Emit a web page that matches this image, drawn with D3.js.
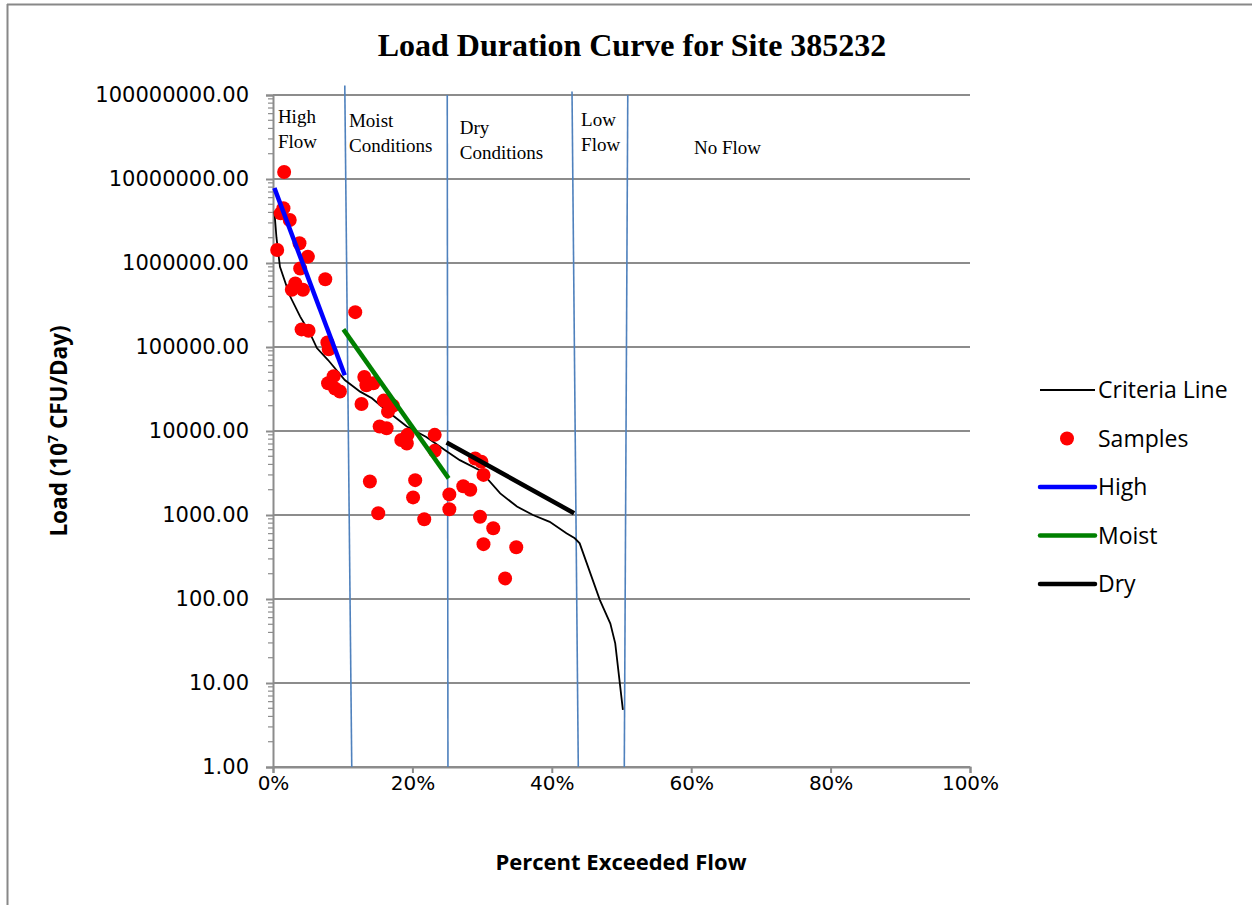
<!DOCTYPE html>
<html>
<head>
<meta charset="utf-8">
<script src="https://cdn.jsdelivr.net/npm/d3@7"></script>
<style>
  body { margin: 0; background: #fff; }
  svg { display: block; }
</style>
</head>
<body>
<div id="chart"></div>
<script>
// Criteria line (percent exceeded flow, load)
const criteriaPct = [0.2, 0.5, 1.0, 2.4, 3.9, 5.3, 6.3, 7.9, 10.3, 12.5, 14.2, 15.6, 17.7, 19.2, 22.0, 24.7, 26.8, 29.7, 32.6, 35.0, 37.3, 39.7, 42.1, 43.3, 44.0, 46.9, 48.4, 49.1, 50.2];
const criteriaLoad = [4.1e6, 2.0e6, 9e5, 4.1e5, 2.3e5, 1.46e5, 9.7e4, 7e4, 4.05e4, 2.94e4, 2.45e4, 1.95e4, 1.42e4, 1.13e4, 8.5e3, 5.9e3, 4.5e3, 3.4e3, 1.81e3, 1.26e3, 1.0e3, 830, 605, 528, 460, 97, 51, 29.7, 4.8];

// Samples
const samplePct = [1.6, 0.6, 1.5, 1.1, 2.4, 3.8, 5.0, 3.9, 7.5, 3.2, 2.7, 4.3, 11.8, 4.1, 5.1, 7.8, 8.0, 8.7, 7.9, 8.9, 9.6, 13.1, 13.4, 14.4, 12.7, 15.9, 17.2, 16.5, 15.3, 16.3, 18.4, 19.3, 19.2, 23.2, 23.2, 29.0, 29.9, 30.2, 13.9, 20.4, 20.1, 15.1, 21.7, 25.3, 25.3, 27.3, 28.3, 29.7, 31.6, 30.2, 34.9, 33.3];
const sampleLoad = [1.21e7, 1.43e6, 4.5e6, 3.9e6, 3.25e6, 1.72e6, 1.19e6, 8.6e5, 6.4e5, 5.7e5, 4.8e5, 4.8e5, 2.6e5, 1.62e5, 1.56e5, 1.13e5, 9.4e4, 4.5e4, 3.7e4, 3.2e4, 2.95e4, 4.4e4, 3.5e4, 3.7e4, 2.1e4, 2.3e4, 2.0e4, 1.7e4, 1.13e4, 1.08e4, 7.8e3, 9.0e3, 7.1e3, 9.0e3, 5.8e3, 4.7e3, 4.3e3, 3.0e3, 2.5e3, 2.6e3, 1.62e3, 1.05e3, 890, 1.76e3, 1.17e3, 2.2e3, 2.0e3, 955, 695, 450, 413, 176];

// Regression lines per flow regime: [startPct, startLoad, endPct, endLoad]
const highLine = [0.2, 7.8e6, 10.3, 4.6e4];
const moistLine = [10.1, 1.62e5, 25.2, 2.73e3];
const dryLine = [24.9, 7.3e3, 43.2, 1.05e3];

// Regime boundaries: percent at top / bottom, load at top
const boundaryTopPct = [10.3, 25.0, 42.9, 50.9];
const boundaryBottomPct = [11.3, 25.1, 43.8, 50.4];
const boundaryTopLoad = [1.3e8, 1e8, 1.1e8, 1e8];

// Regime labels
const regimeNames = [["High", "Flow"], ["Moist", "Conditions"], ["Dry", "Conditions"], ["Low", "Flow"], ["No Flow"]];
const regimeLabelPct = [0.7, 10.9, 26.8, 44.2, 60.4];
const regimeLabelLoad = [4.6e7, 4.2e7, 3.4e7, 4.3e7, 2.0e7];

const xTicks = [0, 20, 40, 60, 80, 100];
const yTicks = [1, 10, 100, 1000, 1e4, 1e5, 1e6, 1e7, 1e8];

const legendNames = ["Criteria Line", "Samples", "High", "Moist", "Dry"];

const W = 1252, H = 905;
const margin = { top: 95, right: 282, bottom: 138, left: 273 },
      width = W - margin.left - margin.right,
      height = H - margin.top - margin.bottom;

const svg = d3.select("#chart").append("svg")
    .attr("width", W)
    .attr("height", H);

// outer frame (only top and left edges visible)
svg.append("line").attr("x1", 7).attr("x2", W).attr("y1", 4.5).attr("y2", 4.5)
    .attr("stroke", "#888").attr("stroke-width", 2);
svg.append("line").attr("x1", 7.5).attr("x2", 7.5).attr("y1", 4).attr("y2", H)
    .attr("stroke", "#888").attr("stroke-width", 2);

const g = svg.append("g")
    .attr("transform", "translate(" + margin.left + "," + margin.top + ")");

const x = d3.scaleLinear().domain([0, 100]).range([0, width]);
const y = d3.scaleLog().domain([1, 1e8]).range([height, 0]);

// horizontal gridlines
g.selectAll(".grid")
  .data(yTicks)
  .join("line")
    .attr("class", "grid")
    .attr("x1", 0).attr("x2", width)
    .attr("y1", d => y(d)).attr("y2", d => y(d))
    .attr("stroke", "#8c8c8c").attr("stroke-width", 2);

// y axis with minor ticks
const minor = y.ticks().filter(d => !yTicks.includes(d));
g.selectAll(".minor")
  .data(minor)
  .join("line")
    .attr("class", "minor")
    .attr("x1", -5).attr("x2", 0)
    .attr("y1", d => y(d)).attr("y2", d => y(d))
    .attr("stroke", "#8c8c8c").attr("stroke-width", 1.2);

const yAxis = g.append("g")
    .call(d3.axisLeft(y).tickValues(yTicks).tickFormat(d3.format(".2f")).tickSize(7).tickPadding(17));
yAxis.select(".domain").attr("stroke", "#8c8c8c").attr("stroke-width", 2);
yAxis.selectAll(".tick line").attr("stroke", "#8c8c8c").attr("stroke-width", 2);
yAxis.selectAll("text")
    .attr("font-family", "DejaVu Sans").attr("font-size", 21).attr("fill", "#000");

const xAxis = g.append("g")
    .attr("transform", `translate(0,${height})`)
    .call(d3.axisBottom(x).tickValues(xTicks).tickFormat(d => d + "%").tickSize(6).tickPadding(3));
xAxis.select(".domain").attr("stroke", "#8c8c8c").attr("stroke-width", 2);
xAxis.selectAll(".tick line").attr("stroke", "#8c8c8c").attr("stroke-width", 2);
xAxis.selectAll("text")
    .attr("font-family", "DejaVu Sans").attr("font-size", 20).attr("fill", "#000");

// regime boundaries
g.selectAll(".boundary")
  .data(boundaryTopPct)
  .join("line")
    .attr("class", "boundary")
    .attr("x1", d => x(d)).attr("y1", (d, i) => y(boundaryTopLoad[i]))
    .attr("x2", (d, i) => x(boundaryBottomPct[i])).attr("y2", y(1))
    .attr("stroke", "#4f81bd").attr("stroke-width", 1.6);

// regime labels
regimeNames.forEach((lines, i) => {
  const t = g.append("text")
      .attr("x", x(regimeLabelPct[i]))
      .attr("y", y(regimeLabelLoad[i]))
      .attr("font-family", "Liberation Serif")
      .attr("font-size", 19)
      .attr("fill", "#000");
  lines.forEach((s, j) => {
    t.append("tspan").attr("x", x(regimeLabelPct[i])).attr("dy", j === 0 ? 0 : 25).text(s);
  });
});

// criteria line
const criteria = criteriaPct.map((p, i) => [p, criteriaLoad[i]]);
const line = d3.line().x(d => x(d[0])).y(d => y(d[1]));
g.append("path")
    .datum(criteria)
    .attr("d", line)
    .attr("fill", "none")
    .attr("stroke", "#000")
    .attr("stroke-width", 1.8);

// samples
g.selectAll(".sample")
  .data(samplePct.map((p, i) => [p, sampleLoad[i]]))
  .join("circle")
    .attr("class", "sample")
    .attr("cx", d => x(d[0]))
    .attr("cy", d => y(d[1]))
    .attr("r", 7)
    .attr("fill", "#ff0000");

// regression lines
const regLines = [
  { seg: highLine, color: "#0000ff" },
  { seg: moistLine, color: "#008000" },
  { seg: dryLine, color: "#000" }
];
g.selectAll(".reg")
  .data(regLines)
  .join("line")
    .attr("class", "reg")
    .attr("x1", d => x(d.seg[0])).attr("y1", d => y(d.seg[1]))
    .attr("x2", d => x(d.seg[2])).attr("y2", d => y(d.seg[3]))
    .attr("stroke", d => d.color)
    .attr("stroke-width", 4.5);

// title
svg.append("text")
    .attr("x", 632).attr("y", 56)
    .attr("text-anchor", "middle")
    .attr("font-family", "Liberation Serif")
    .attr("font-weight", "bold")
    .attr("font-size", 32)
    .text("Load Duration Curve for Site 385232");

// axis titles
svg.append("text")
    .attr("x", 621).attr("y", 870)
    .attr("text-anchor", "middle")
    .attr("font-family", "Open Sans")
    .attr("font-weight", "bold")
    .attr("font-size", 22)
    .text("Percent Exceeded Flow");

const yTitle = svg.append("text")
    .attr("transform", "translate(67,431) rotate(-90)")
    .attr("text-anchor", "middle")
    .attr("font-family", "Open Sans")
    .attr("font-weight", "bold")
    .attr("font-size", 22.5);
yTitle.append("tspan").text("Load (10");
yTitle.append("tspan").attr("font-size", 14).attr("dy", -9).text("7");
yTitle.append("tspan").attr("dy", 9).text(" CFU/Day)");

// legend
const legend = svg.append("g")
    .attr("transform", "translate(1040,390)");
const legendItems = legend.selectAll("g")
  .data(legendNames)
  .join("g")
    .attr("transform", (d, i) => `translate(0,${i * 48.5})`);

legendItems.each(function(d, i) {
  const item = d3.select(this);
  if (i === 1) {
    item.append("circle").attr("cx", 27).attr("cy", 0).attr("r", 7).attr("fill", "#ff0000");
  } else {
    item.append("line")
        .attr("x1", 0).attr("x2", 55).attr("y1", 0).attr("y2", 0)
        .attr("stroke", [ "#000", null, "#0000ff", "#008000", "#000" ][i])
        .attr("stroke-width", i === 0 ? 1.8 : 4.5)
        .attr("stroke-linecap", i === 0 ? "butt" : "round");
  }
  item.append("text")
      .attr("x", 58).attr("y", 0).attr("dy", "0.35em")
      .attr("font-family", "Open Sans")
      .attr("font-size", 23)
      .text(d);
});
</script>
</body>
</html>
